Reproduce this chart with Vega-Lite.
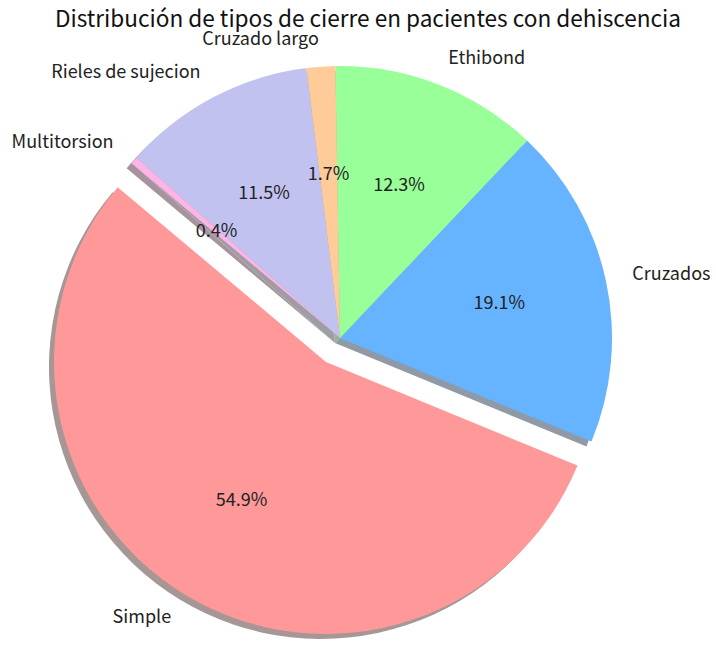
{
  "$schema": "https://vega.github.io/schema/vega-lite/v6.json",
  "width": 680,
  "height": 596,
  "autosize": "none",
  "padding": {"left": 0, "top": 40, "right": 36, "bottom": 11},
  "background": "white",
  "title": {
    "text": "Distribución de tipos de cierre en pacientes con dehiscencia",
    "font": "Noto Sans CJK SC",
    "fontSize": 22.6,
    "fontWeight": "normal",
    "color": "#111",
    "anchor": "middle",
    "dx": 28,
    "offset": -19,
    "baseline": "alphabetic"
  },
  "config": {"view": {"stroke": null}, "text": {"font": "Noto Sans CJK SC"}},
  "data": {
    "values": [
      {"tipo": "Simple", "n": 129, "pct": "54.9%", "orden": 1},
      {"tipo": "Cruzados", "n": 45, "pct": "19.1%", "orden": 2},
      {"tipo": "Ethibond", "n": 29, "pct": "12.3%", "orden": 3},
      {"tipo": "Cruzado largo", "n": 4, "pct": "1.7%", "orden": 4},
      {"tipo": "Rieles de sujecion", "n": 27, "pct": "11.5%", "orden": 5},
      {"tipo": "Multitorsion", "n": 1, "pct": "0.4%", "orden": 6}
    ]
  },
  "encoding": {
    "theta": {"field": "n", "type": "quantitative", "stack": true, "scale": {"range": [5.410521, 11.693706]}},
    "order": {"field": "orden", "type": "quantitative", "sort": "descending"}
  },
  "layer": [
    {
      "mark": {"type": "arc", "radius": 272, "xOffset": -5, "yOffset": 5},
      "encoding": {
        "fill": {"field": "tipo", "type": "nominal", "legend": null,
          "scale": {"domain": ["Simple", "Cruzados", "Ethibond", "Cruzado largo", "Rieles de sujecion", "Multitorsion"],
                    "range": ["#a69696", "#8f9aa6", "#97b397", "#b3a697", "#9d9da4", "#a6939e"]}},
        "opacity": {"condition": {"test": "datum.tipo === 'Simple'", "value": 0}, "value": 1}
      }
    },
    {
      "mark": {"type": "arc", "radius": 272, "xOffset": -19, "yOffset": 29},
      "encoding": {
        "fill": {"field": "tipo", "type": "nominal", "legend": null},
        "opacity": {"condition": {"test": "datum.tipo === 'Simple'", "value": 1}, "value": 0}
      }
    },
    {
      "mark": {"type": "arc", "radius": 272},
      "encoding": {
        "color": {"field": "tipo", "type": "nominal", "legend": null,
          "scale": {"domain": ["Simple", "Cruzados", "Ethibond", "Cruzado largo", "Rieles de sujecion", "Multitorsion"],
                    "range": ["#ff9999", "#66b3ff", "#99ff99", "#ffcc99", "#c2c2f0", "#ffb3e6"]}},
        "opacity": {"condition": {"test": "datum.tipo === 'Simple'", "value": 0}, "value": 1}
      }
    },
    {
      "mark": {"type": "arc", "radius": 272, "xOffset": -14, "yOffset": 24},
      "encoding": {
        "color": {"field": "tipo", "type": "nominal", "legend": null},
        "opacity": {"condition": {"test": "datum.tipo === 'Simple'", "value": 1}, "value": 0}
      }
    },
    {
      "mark": {"type": "text", "radius": 163, "fontSize": 18, "color": "#222", "align": "center", "baseline": "middle"},
      "encoding": {
        "detail": {"field": "tipo"},
        "text": {"condition": {"test": "datum.tipo !== 'Simple'", "field": "pct"}, "value": ""}
      }
    },
    {
      "mark": {"type": "text", "radius": 163, "fontSize": 18, "color": "#222", "align": "center", "baseline": "middle", "xOffset": -14, "yOffset": 24},
      "encoding": {
        "detail": {"field": "tipo"},
        "text": {"condition": {"test": "datum.tipo === 'Simple'", "field": "pct"}, "value": ""}
      }
    },
    {
      "mark": {"type": "text", "radius": 299, "fontSize": 18, "color": "#222", "align": "left", "baseline": "middle"},
      "encoding": {
        "detail": {"field": "tipo"},
        "text": {"condition": {"test": "datum.tipo === 'Cruzados' || datum.tipo === 'Ethibond'", "field": "tipo"}, "value": ""}
      }
    },
    {
      "mark": {"type": "text", "radius": 299, "fontSize": 18, "color": "#222", "align": "right", "baseline": "middle"},
      "encoding": {
        "detail": {"field": "tipo"},
        "text": {"condition": {"test": "datum.tipo === 'Cruzado largo' || datum.tipo === 'Rieles de sujecion' || datum.tipo === 'Multitorsion'", "field": "tipo"}, "value": ""}
      }
    },
    {
      "mark": {"type": "text", "radius": 299, "fontSize": 18, "color": "#222", "align": "right", "baseline": "middle", "xOffset": -14, "yOffset": 24},
      "encoding": {
        "detail": {"field": "tipo"},
        "text": {"condition": {"test": "datum.tipo === 'Simple'", "field": "tipo"}, "value": ""}
      }
    }
  ]
}
